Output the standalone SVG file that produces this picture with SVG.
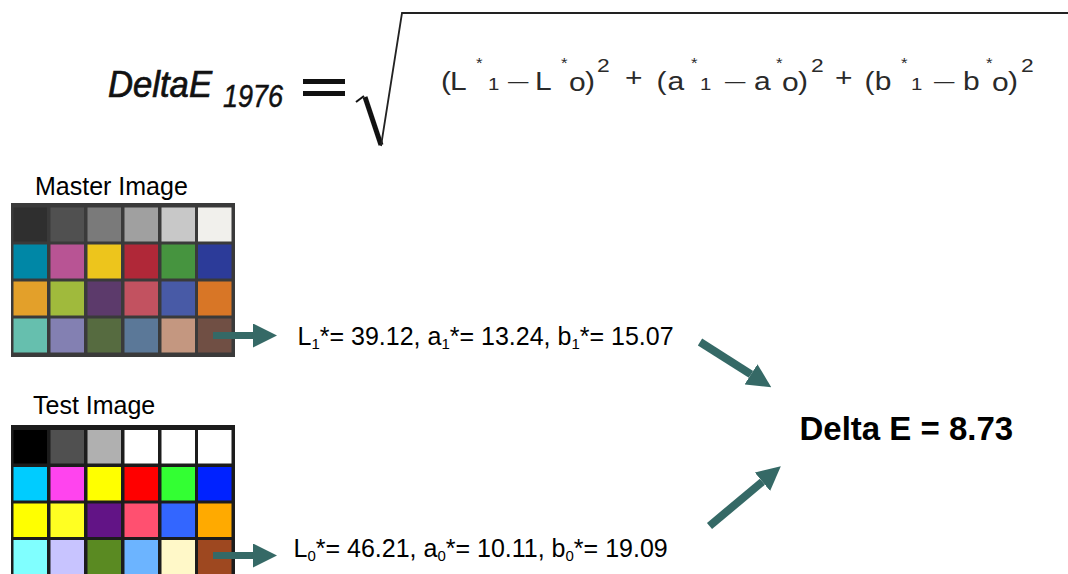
<svg xmlns="http://www.w3.org/2000/svg" width="1068" height="574" viewBox="0 0 1068 574">
<style>
text{font-family:"Liberation Sans",Arial,sans-serif;}
.f{fill:#2a2a2a;font-size:25px;}
.sup{font-size:14px;}
.sub{font-size:17px;}
.p2{font-size:19px;}
.dash{font-size:17px;}
.lbl{font-size:25px;fill:#000;}
.cap{font-size:25px;fill:#000;}
.conn{stroke:#356966;stroke-width:7;fill:none;marker-end:url(#ah);}
</style>
<defs>
<marker id="ah" viewBox="0 0 24 24" refX="0" refY="12" markerWidth="24" markerHeight="24" markerUnits="userSpaceOnUse" orient="auto">
<path d="M0,0 L24,12 L0,24 Z" fill="#356966"/>
</marker>
</defs>
<rect width="1068" height="574" fill="#fff"/>

<g id="formula">
<text x="108" y="97" font-size="36" font-style="italic" fill="#111" stroke="#111" stroke-width="0.7" textLength="104" lengthAdjust="spacingAndGlyphs">DeltaE</text>
<text x="223" y="107" font-size="32" font-style="italic" fill="#111" stroke="#111" stroke-width="0.5" textLength="60" lengthAdjust="spacingAndGlyphs">1976</text>
<rect x="303" y="79" width="42" height="5" fill="#111"/>
<rect x="303" y="91" width="42" height="5" fill="#111"/>
<path d="M356,102 L364,96" stroke="#111" stroke-width="2" fill="none"/>
<path d="M365,97 L381,145" stroke="#111" stroke-width="5" fill="none"/>
<path d="M381,146 L402,13 L1068,13" stroke="#222" stroke-width="1.8" fill="none"/>
<text class="f" transform="scale(1.2,1)"><tspan x="367.5" y="90">(</tspan><tspan x="375" y="90">L</tspan><tspan class="sup" x="396.7" y="68">*</tspan><tspan class="sub" x="406.7" y="90">1</tspan><tspan class="dash" x="423.3" y="87">—</tspan><tspan x="445.8" y="90">L</tspan><tspan class="sup" x="467.5" y="68">*</tspan><tspan x="474.2" y="91">o</tspan><tspan x="487.5" y="90">)</tspan><tspan class="p2" x="497.5" y="72">2</tspan><tspan x="520.8" y="86">+</tspan><tspan x="547" y="90">(</tspan><tspan x="556.3" y="90">a</tspan><tspan class="sup" x="575.8" y="68">*</tspan><tspan class="sub" x="583.3" y="90">1</tspan><tspan class="dash" x="604.2" y="87">—</tspan><tspan x="628.3" y="90">a</tspan><tspan class="sup" x="646.7" y="68">*</tspan><tspan x="651.7" y="91">o</tspan><tspan x="665" y="90">)</tspan><tspan class="p2" x="675.8" y="72">2</tspan><tspan x="695.8" y="86">+</tspan><tspan x="720.5" y="90">(</tspan><tspan x="729" y="90">b</tspan><tspan class="sup" x="750.8" y="68">*</tspan><tspan class="sub" x="759.2" y="90">1</tspan><tspan class="dash" x="778.3" y="87">—</tspan><tspan x="802.5" y="90">b</tspan><tspan class="sup" x="821.7" y="68">*</tspan><tspan x="826.7" y="91">o</tspan><tspan x="840" y="90">)</tspan><tspan class="p2" x="850.8" y="72">2</tspan></text>
</g>

<g id="master-image">
<text class="cap" x="35" y="195">Master Image</text>
<rect x="11" y="203" width="224" height="154" fill="#3a3a3a"/>
<g>
<rect x="13.5" y="207.5" width="33.5" height="34" fill="#2f2f2f"/>
<rect x="50.5" y="207.5" width="33.5" height="34" fill="#505050"/>
<rect x="87.5" y="207.5" width="33.5" height="34" fill="#7a7a7a"/>
<rect x="124.5" y="207.5" width="33.5" height="34" fill="#a0a0a0"/>
<rect x="161.5" y="207.5" width="33.5" height="34" fill="#c8c8c8"/>
<rect x="198" y="207.5" width="33.5" height="34" fill="#f1f0ec"/>
<rect x="13.5" y="244.5" width="33.5" height="34" fill="#0087a6"/>
<rect x="50.5" y="244.5" width="33.5" height="34" fill="#b85494"/>
<rect x="87.5" y="244.5" width="33.5" height="34" fill="#edc51c"/>
<rect x="124.5" y="244.5" width="33.5" height="34" fill="#b02838"/>
<rect x="161.5" y="244.5" width="33.5" height="34" fill="#46943f"/>
<rect x="198" y="244.5" width="33.5" height="34" fill="#2c3b99"/>
<rect x="13.5" y="281.5" width="33.5" height="34" fill="#e3a02a"/>
<rect x="50.5" y="281.5" width="33.5" height="34" fill="#a0ba3c"/>
<rect x="87.5" y="281.5" width="33.5" height="34" fill="#5c3a6b"/>
<rect x="124.5" y="281.5" width="33.5" height="34" fill="#c25260"/>
<rect x="161.5" y="281.5" width="33.5" height="34" fill="#485aa6"/>
<rect x="198" y="281.5" width="33.5" height="34" fill="#d87626"/>
<rect x="13.5" y="318.5" width="33.5" height="34" fill="#66bfae"/>
<rect x="50.5" y="318.5" width="33.5" height="34" fill="#8380b2"/>
<rect x="87.5" y="318.5" width="33.5" height="34" fill="#566b40"/>
<rect x="124.5" y="318.5" width="33.5" height="34" fill="#5b7898"/>
<rect x="161.5" y="318.5" width="33.5" height="34" fill="#c49780"/>
<rect x="198" y="318.5" width="33.5" height="34" fill="#704f44"/>
</g>
</g>

<g id="test-image">
<text class="cap" x="33" y="414">Test Image</text>
<rect x="11" y="425" width="224" height="160" fill="#1c1c1c"/>
<g>
<rect x="13.5" y="430" width="33.5" height="33.5" fill="#000000"/>
<rect x="50.5" y="430" width="33.5" height="33.5" fill="#505050"/>
<rect x="87.5" y="430" width="33.5" height="33.5" fill="#b0b0b0"/>
<rect x="124.5" y="430" width="33.5" height="33.5" fill="#ffffff"/>
<rect x="161.5" y="430" width="33.5" height="33.5" fill="#ffffff"/>
<rect x="198" y="430" width="33.5" height="33.5" fill="#ffffff"/>
<rect x="13.5" y="467" width="33.5" height="33.5" fill="#00ccff"/>
<rect x="50.5" y="467" width="33.5" height="33.5" fill="#ff44ee"/>
<rect x="87.5" y="467" width="33.5" height="33.5" fill="#ffff00"/>
<rect x="124.5" y="467" width="33.5" height="33.5" fill="#ff0000"/>
<rect x="161.5" y="467" width="33.5" height="33.5" fill="#33ff33"/>
<rect x="198" y="467" width="33.5" height="33.5" fill="#0022ff"/>
<rect x="13.5" y="503.5" width="33.5" height="33.5" fill="#ffff00"/>
<rect x="50.5" y="503.5" width="33.5" height="33.5" fill="#ffff22"/>
<rect x="87.5" y="503.5" width="33.5" height="33.5" fill="#621486"/>
<rect x="124.5" y="503.5" width="33.5" height="33.5" fill="#ff5070"/>
<rect x="161.5" y="503.5" width="33.5" height="33.5" fill="#3366ff"/>
<rect x="198" y="503.5" width="33.5" height="33.5" fill="#ffaa00"/>
<rect x="13.5" y="540" width="33.5" height="40" fill="#80ffff"/>
<rect x="50.5" y="540" width="33.5" height="40" fill="#c8c4ff"/>
<rect x="87.5" y="540" width="33.5" height="40" fill="#5a8a22"/>
<rect x="124.5" y="540" width="33.5" height="40" fill="#6cb4ff"/>
<rect x="161.5" y="540" width="33.5" height="40" fill="#fff8c8"/>
<rect x="198" y="540" width="33.5" height="40" fill="#9e4820"/>
</g>
</g>

<g id="label-master">
<text class="lbl" x="297.5" y="345">L<tspan font-size="15" dy="4">1</tspan><tspan dy="-4">*= 39.12, a</tspan><tspan font-size="15" dy="4">1</tspan><tspan dy="-4">*= 13.24, b</tspan><tspan font-size="15" dy="4">1</tspan><tspan dy="-4">*= 15.07</tspan></text>
</g>

<g id="label-test">
<text class="lbl" x="293.5" y="556.5">L<tspan font-size="15" dy="4">0</tspan><tspan dy="-4">*= 46.21, a</tspan><tspan font-size="15" dy="4">0</tspan><tspan dy="-4">*= 10.11, b</tspan><tspan font-size="15" dy="4">0</tspan><tspan dy="-4">*= 19.09</tspan></text>
</g>

<g id="result">
<text x="799.5" y="440" font-size="33" font-weight="bold" fill="#000">Delta E = 8.73</text>
</g>

<g id="connectors">
<line class="conn" x1="213" y1="335.5" x2="253" y2="335.5"/>
<line class="conn" x1="213" y1="555.5" x2="253" y2="555.5"/>
<line class="conn" x1="700" y1="342" x2="751" y2="374.3" style="stroke-width:8"/>
<line class="conn" x1="709.5" y1="526" x2="762.4" y2="481.7" style="stroke-width:8"/>
</g>
</svg>
